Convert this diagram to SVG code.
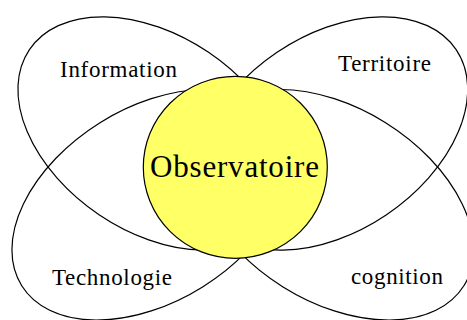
<svg xmlns="http://www.w3.org/2000/svg" width="467" height="320" viewBox="0 0 467 320">
  <style>
    .lobe { fill: none; stroke: #000; stroke-width: 1.2; }
    .core { fill: #ffff66; stroke: #000; stroke-width: 1.2; }
    .lbl { font-family: "Liberation Serif", "Times New Roman", serif; font-size: 23px; fill: #000; }
    .main { font-family: "Liberation Serif", "Times New Roman", serif; font-size: 31px; fill: #000; }
  </style>
  <rect x="0" y="0" width="467" height="320" fill="#fff"/>
  <g id="information">
    <ellipse class="lobe" cx="0" cy="0" rx="150" ry="97.9" transform="translate(153.8 133.5) rotate(34)"/>
    <text class="lbl" x="60" y="77" textLength="117" lengthAdjust="spacing">Information</text>
  </g>
  <g id="territoire">
    <ellipse class="lobe" cx="0" cy="0" rx="150" ry="97.9" transform="translate(331.8 133.5) rotate(-34)"/>
    <text class="lbl" x="338" y="71" textLength="93" lengthAdjust="spacing">Territoire</text>
  </g>
  <g id="technologie">
    <ellipse class="lobe" cx="0" cy="0" rx="152.8" ry="96.8" transform="translate(151.3 204.8) rotate(-32)"/>
    <text class="lbl" x="52" y="285" textLength="120" lengthAdjust="spacing">Technologie</text>
  </g>
  <g id="cognition">
    <ellipse class="lobe" cx="0" cy="0" rx="152.8" ry="96.8" transform="translate(334.3 204.8) rotate(32)"/>
    <text class="lbl" x="351" y="284" textLength="92" lengthAdjust="spacing">cognition</text>
  </g>
  <g id="observatoire">
    <ellipse class="core" cx="235.3" cy="167.3" rx="92" ry="91"/>
    <text class="main" x="150" y="177" textLength="169" lengthAdjust="spacing">Observatoire</text>
  </g>
</svg>
